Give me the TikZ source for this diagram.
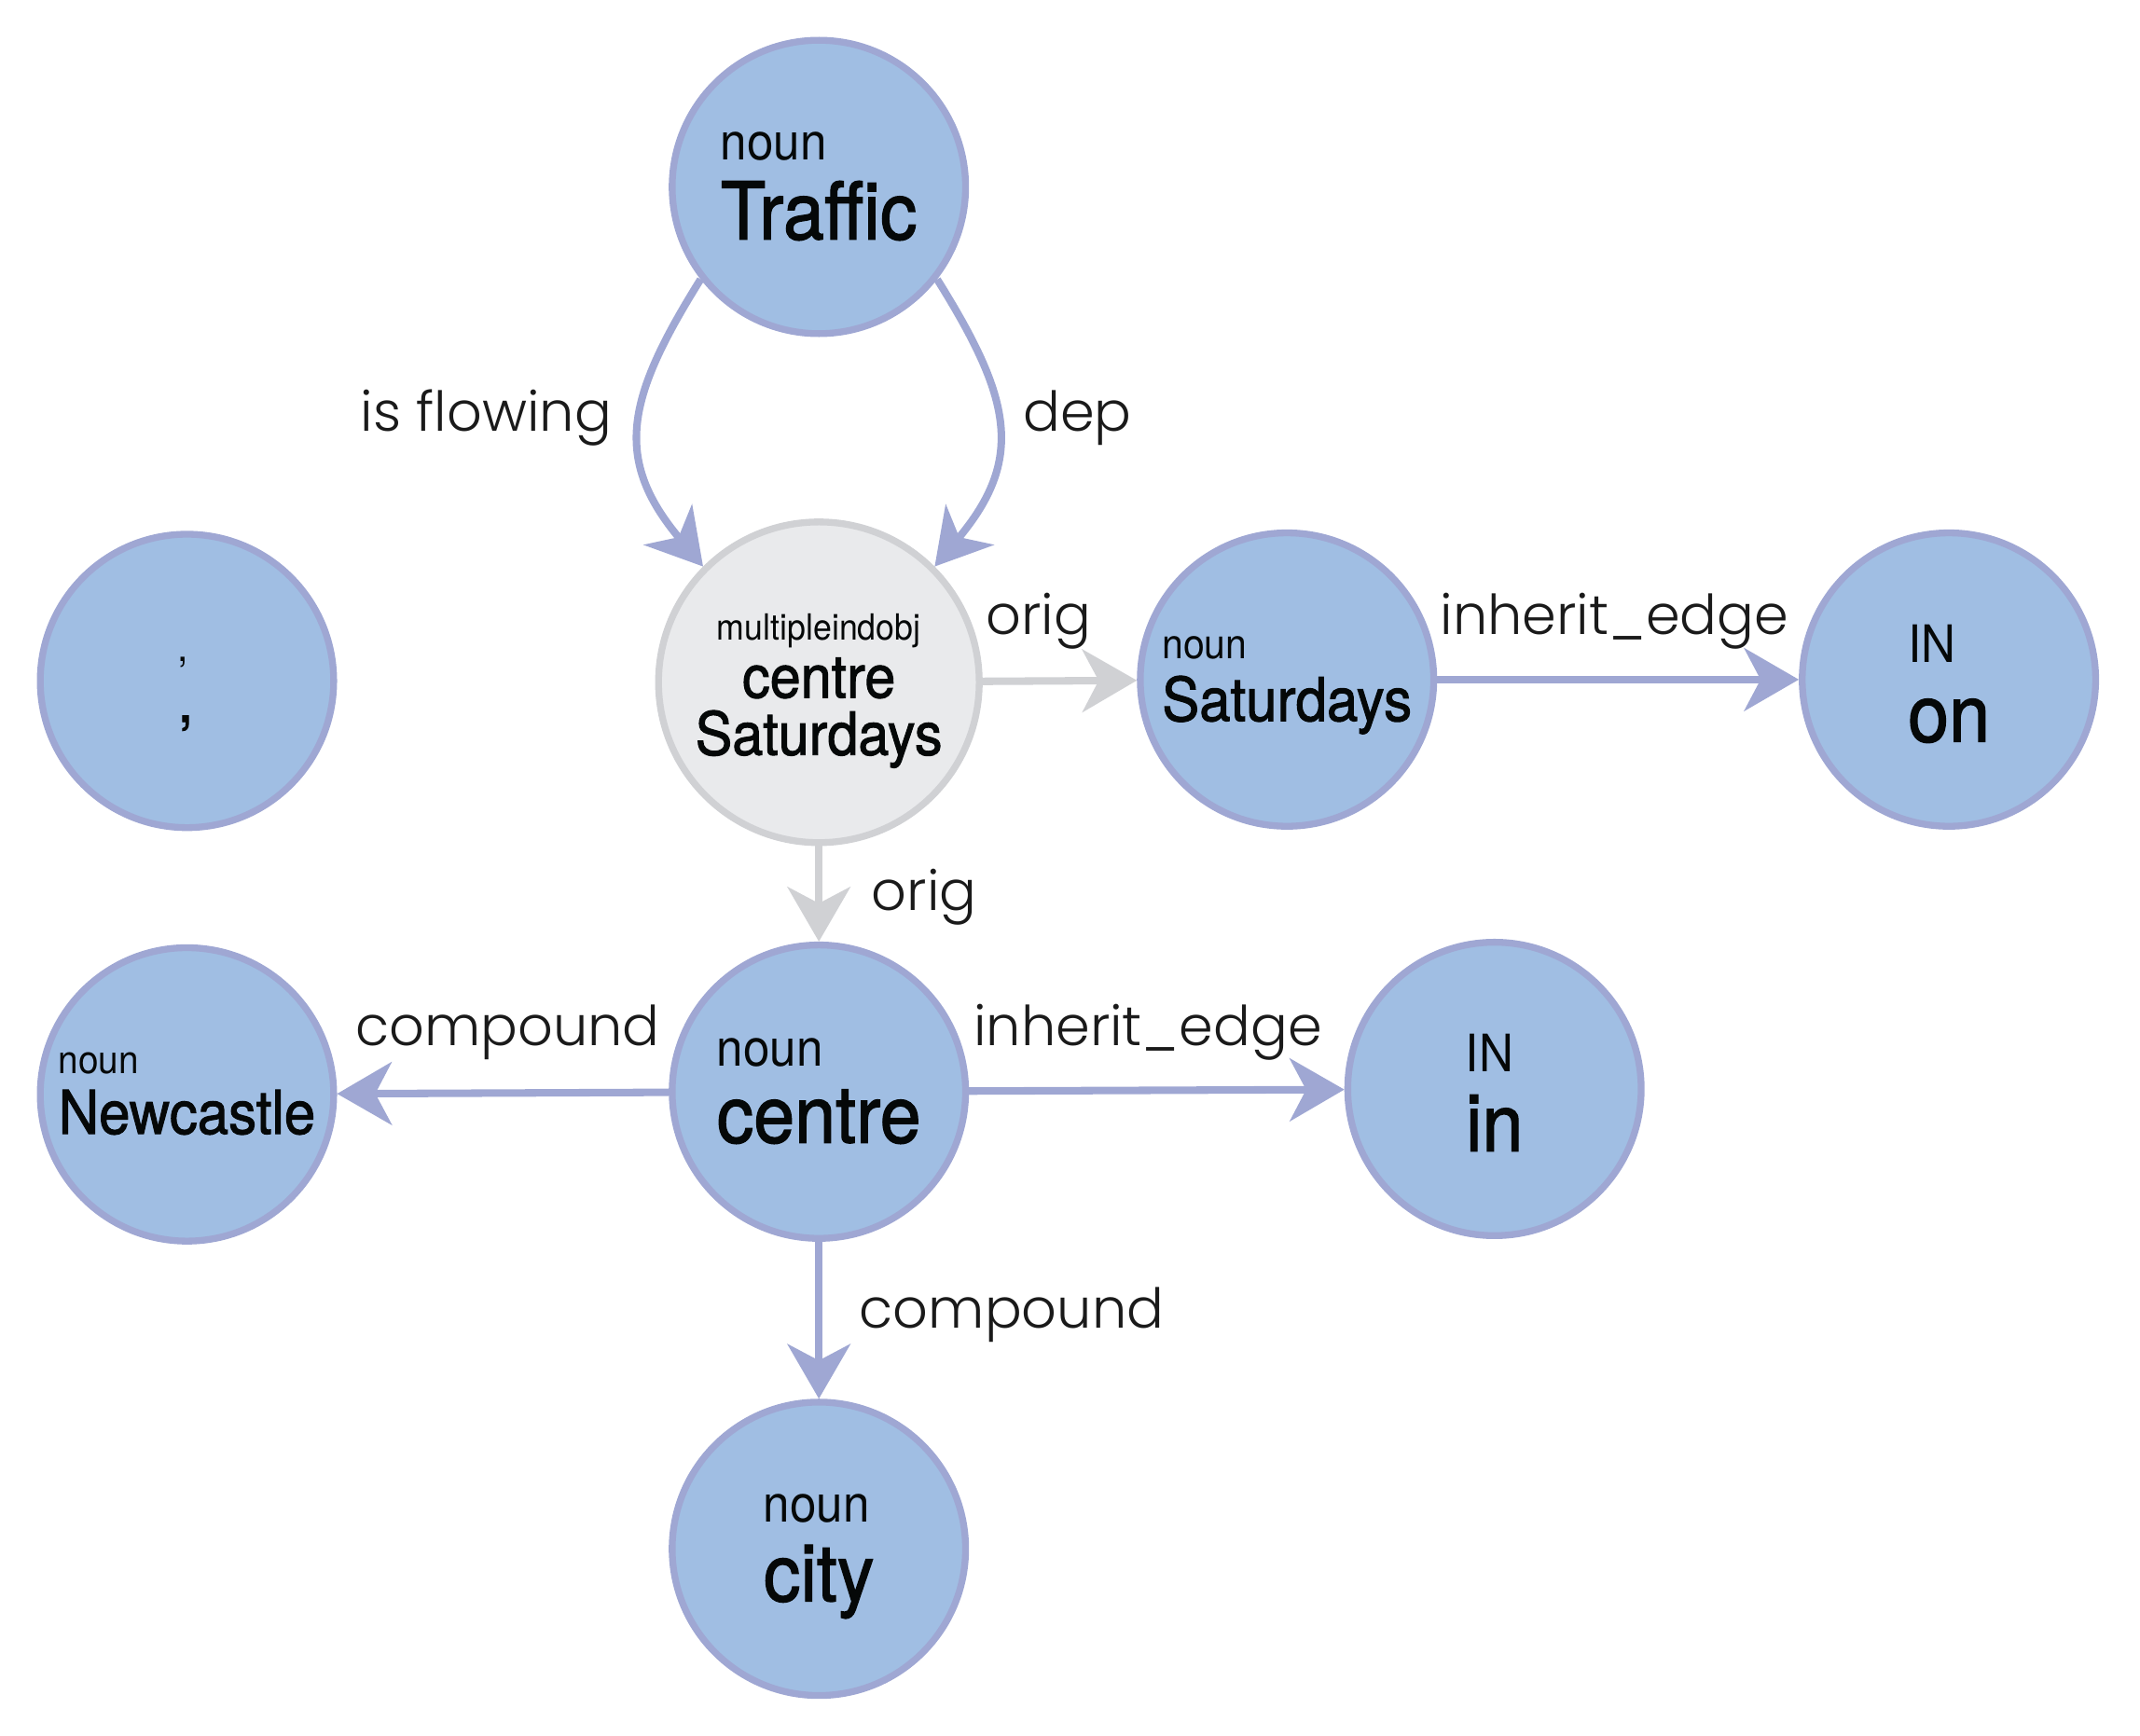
\documentclass[tikz,border=0pt]{standalone}
\usepackage{fontspec}
\setmainfont{TeX Gyre Heros}[FakeStretch=0.925]
\newfontfamily\boldw{TeX Gyre Heros}[FakeStretch=0.925,FakeBold=1.5]
\newfontfamily\labfont{Poppins Light}
\usetikzlibrary{arrows.meta}
\definecolor{nodefill}{HTML}{A0BEE3}
\definecolor{nodeline}{HTML}{9FA7D3}
\definecolor{grayfill}{HTML}{E9EAEC}
\definecolor{grayline}{HTML}{D0D1D4}
\definecolor{txt}{HTML}{050808}
\definecolor{labtxt}{HTML}{1A1A1A}

% #1 small size, #2 big size, #3 baseline gap, #4 last baseline below centre, #5 small text, #6 big text
\newcommand\twolines[6]{%
  \setbox0=\vbox{\baselineskip=#3\lineskiplimit=-\maxdimen
    \hbox{\fontsize{#1}{#1}\selectfont #5}%
    \hbox{\boldw\fontsize{#2}{#2}\selectfont #6}}%
  \dimen0=#4\relax\multiply\dimen0 by 2
  \ht0=\dimen0 \dp0=0pt \box0}

\newcommand\graylines{%
  \setbox0=\vbox{\lineskiplimit=-\maxdimen\baselineskip=40pt
    \hbox to 190pt{\hss\fontsize{26.4pt}{26.4pt}\selectfont multipleindobj\hss}%
    \baselineskip=42pt
    \hbox to 190pt{\hss\boldw\fontsize{43.8pt}{43.8pt}\selectfont centre\hss}%
    \hbox to 190pt{\hss\boldw\fontsize{43.8pt}{43.8pt}\selectfont Saturdays\hss}}%
  \ht0=100pt \dp0=0pt \box0}

\tikzset{
  word/.style={circle, draw=nodeline, fill=nodefill, line width=5pt,
    minimum size=215pt, inner sep=0pt, text=txt},
  multi/.style={circle, draw=grayline, fill=grayfill, line width=5pt,
    minimum size=235pt, inner sep=0pt, text=txt},
  rel/.style={draw=nodeline, line width=5.5pt,
    -{Stealth[length=40pt,width=46pt,inset=12pt]}},
  origrel/.style={rel, draw=grayline},
  lab/.style={font=\labfont\fontsize{40.3pt}{40.3pt}\selectfont, text=labtxt, inner sep=0pt},
  tag/.style={inner sep=0pt, anchor=base, text=txt}
}

\begin{document}
\begin{tikzpicture}[x=1pt,y=1pt]
\useasboundingbox (0,0) rectangle (1568,1272);

\node[word]  (traffic) at (600,1135) {\twolines{37.8pt}{58.4pt}{58pt}{40pt}{noun}{Traffic}};
\node[multi] (gray)    at (600,772)  {\graylines};
\node[word]  (comma)   at (137,773)  {};
\node[tag, font=\fontsize{30.3pt}{30.3pt}\selectfont] (comma-pos) at ([xshift=-3pt,yshift=14.5pt]comma.center) {,};
\node[tag, font=\boldw\fontsize{44.3pt}{44.3pt}\selectfont] (comma-word) at ([xshift=-1pt,yshift=-30pt]comma.center) {,};
\node[word]  (sat)     at (943,774)  {\twolines{30.3pt}{44.3pt}{45.5pt}{31.5pt}{noun}{Saturdays}};
\node[word]  (on)      at (1428,774) {\twolines{37.8pt}{58.4pt}{58pt}{40pt}{IN}{on}};
\node[word]  (newc)    at (137,470)  {\twolines{28.6pt}{44.3pt}{44.5pt}{31pt}{noun}{Newcastle}};
\node[word]  (centre)  at (600,472)  {\twolines{37.8pt}{58.4pt}{56pt}{39pt}{noun}{centre}};
\node[word]  (in)      at (1095,474) {\twolines{37.8pt}{58.4pt}{58pt}{40pt}{IN}{in}};
\node[word]  (city)    at (600,137)  {\twolines{37.8pt}{58.4pt}{58pt}{40pt}{noun}{city}};

\draw[rel] (traffic.218) to[out=238,in=130,looseness=1.25]
  node[lab,pos=0.5,anchor=base east,xshift=-18pt,yshift=-3pt] (l1) {is flowing} (gray.135);
\draw[rel] (traffic.322) to[out=302,in=50,looseness=1.25]
  node[lab,pos=0.5,anchor=base west,xshift=16pt,yshift=-3pt] (l2) {dep} (gray.45);

\draw[origrel] (gray) -- node[lab,midway,anchor=base,xshift=-15.5pt,yshift=34pt] (l3) {orig} (sat);
\draw[origrel] (gray) -- node[lab,midway,anchor=base west,xshift=36pt,yshift=-12pt] (l4) {orig} (centre);
\draw[rel] (sat) -- node[lab,midway,anchor=base,xshift=-2.5pt,yshift=33pt] (l5) {inherit\_edge} (on);
\draw[rel] (centre) -- node[lab,midway,anchor=base,xshift=3.5pt,yshift=35pt] (l6) {compound} (newc);
\draw[rel] (centre) -- node[lab,midway,anchor=base,xshift=-6.5pt,yshift=33pt] (l7) {inherit\_edge} (in);
\draw[rel] (centre) -- node[lab,midway,anchor=base west,xshift=27pt,yshift=-5.5pt] (l8) {compound} (city);
\end{tikzpicture}
\end{document}
